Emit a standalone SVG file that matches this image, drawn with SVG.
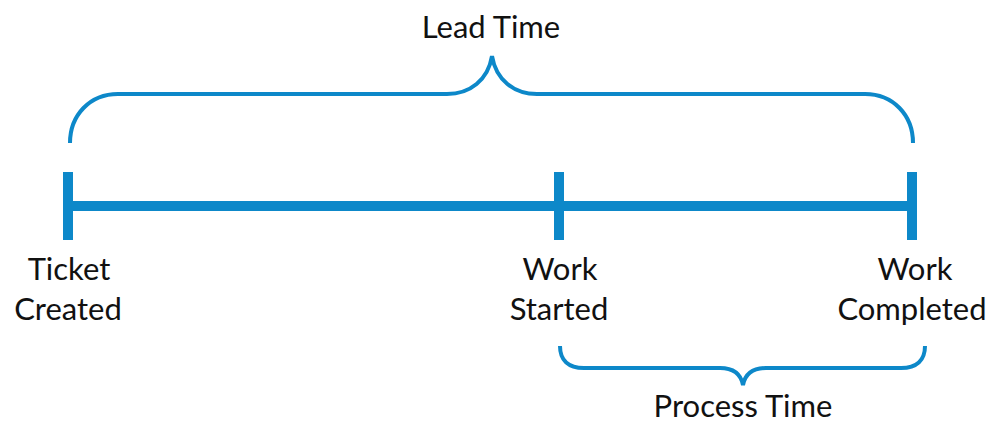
<svg xmlns="http://www.w3.org/2000/svg" width="994" height="425" viewBox="0 0 994 425">
<style>
.tl{stroke:#0D88C9;stroke-width:10;fill:none}
.br{stroke:#0D88C9;stroke-width:4;fill:none;stroke-linecap:butt}
text{font-family:Lato,"Noto Sans",sans-serif;font-size:31px;fill:#111;text-anchor:middle}
</style>
<rect width="994" height="425" fill="#fff"/>
<g id="connectors">
<path class="tl" d="M68,206 H912"/>
<path class="br" d="M70,143 C70,115 90,94 118,94 L447,94 C470,94 488,80 492,56 C496,80 514,94 537,94 L865,94 C893,94 913,115 913,143"/>
<path class="br" d="M560,346 C560,360 568,368 584,368 L720,368 C734,368 741,375 743,385 C745,375 752,368 766,368 L901,368 C917,368 925,360 925,346"/>
</g>
<g id="ticket-created">
<path class="tl" d="M68,172 V240"/>
<text x="69" y="280">Ticket</text>
<text x="68" y="320">Created</text>
</g>
<g id="work-started">
<path class="tl" d="M559,172 V240"/>
<text x="560" y="280">Work</text>
<text x="559" y="320">Started</text>
</g>
<g id="work-completed">
<path class="tl" d="M912,172 V240"/>
<text x="915" y="280">Work</text>
<text x="912" y="320">Completed</text>
</g>
<g id="lead-time">
<text x="491" y="38">Lead Time</text>
</g>
<g id="process-time">
<text x="743" y="417">Process Time</text>
</g>
</svg>
